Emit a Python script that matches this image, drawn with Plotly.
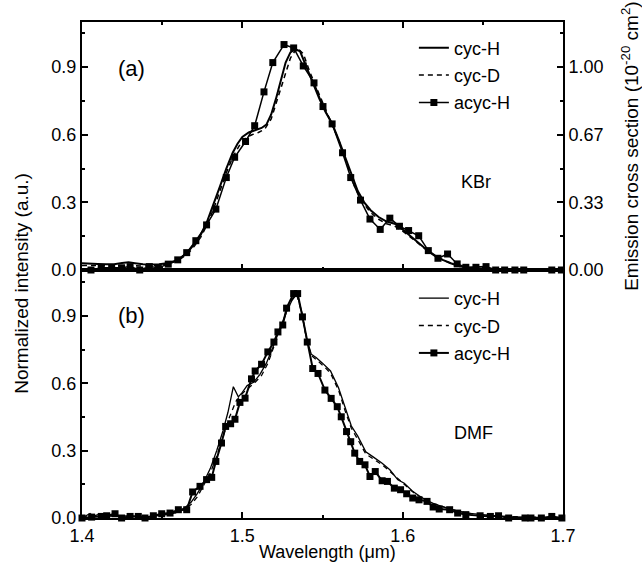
import plotly.graph_objects as go

# ---------------- data: (a) KBr ----------------
a_cycH_x = [1.400, 1.405, 1.410, 1.415, 1.420, 1.425, 1.429, 1.433, 1.438, 1.443, 1.448, 1.453,
            1.458, 1.462, 1.466, 1.470, 1.474, 1.478, 1.482, 1.486, 1.490, 1.494, 1.497, 1.500,
            1.504, 1.508, 1.512, 1.515, 1.518, 1.521, 1.524, 1.527, 1.530, 1.533, 1.536, 1.540,
            1.544, 1.548, 1.552, 1.556, 1.560, 1.564, 1.568, 1.572, 1.576, 1.580, 1.585, 1.590,
            1.595, 1.600, 1.605, 1.610, 1.615, 1.620, 1.625, 1.630, 1.635, 1.640, 1.650, 1.660,
            1.680, 1.700]
a_cycH_y = [0.030, 0.030, 0.027, 0.025, 0.026, 0.031, 0.034, 0.030, 0.025, 0.024, 0.025, 0.030,
            0.040, 0.055, 0.080, 0.115, 0.155, 0.215, 0.290, 0.370, 0.450, 0.520, 0.560, 0.590,
            0.610, 0.620, 0.630, 0.645, 0.690, 0.760, 0.840, 0.920, 0.965, 0.980, 0.970, 0.900,
            0.830, 0.760, 0.700, 0.650, 0.580, 0.500, 0.420, 0.350, 0.300, 0.265, 0.235, 0.215,
            0.205, 0.180, 0.150, 0.120, 0.090, 0.065, 0.045, 0.030, 0.018, 0.010, 0.005, 0.003,
            0.002, 0.002]

a_cycD_x = [1.400, 1.410, 1.420, 1.430, 1.440, 1.450, 1.456, 1.461, 1.466, 1.470, 1.474, 1.478,
            1.482, 1.486, 1.490, 1.494, 1.498, 1.502, 1.506, 1.510, 1.514, 1.518, 1.522, 1.526,
            1.530, 1.534, 1.538, 1.542, 1.546, 1.550, 1.555, 1.560, 1.565, 1.570, 1.575, 1.580,
            1.585, 1.590, 1.595, 1.600, 1.605, 1.610, 1.615, 1.620, 1.625, 1.630, 1.640, 1.650,
            1.670, 1.700]
a_cycD_y = [0.020, 0.020, 0.018, 0.020, 0.018, 0.022, 0.032, 0.048, 0.072, 0.105, 0.145, 0.200,
            0.270, 0.350, 0.430, 0.500, 0.550, 0.585, 0.600, 0.610, 0.625, 0.670, 0.760, 0.860,
            0.940, 0.985, 0.960, 0.880, 0.810, 0.740, 0.660, 0.580, 0.470, 0.370, 0.300, 0.255,
            0.225, 0.205, 0.195, 0.172, 0.145, 0.115, 0.088, 0.062, 0.044, 0.030, 0.010, 0.004,
            0.002, 0.002]

a_acycH_x = [1.4056, 1.412, 1.4185, 1.4247, 1.430, 1.436, 1.442, 1.4476, 1.4538, 1.4597, 1.4653,
             1.471, 1.4777, 1.4835, 1.490, 1.4952, 1.502, 1.5077, 1.5135, 1.519, 1.526, 1.532,
             1.538, 1.5447, 1.5503, 1.556, 1.5625, 1.5676, 1.5737, 1.5796, 1.586, 1.592, 1.598,
             1.6037, 1.610, 1.616, 1.622, 1.628, 1.634, 1.6394, 1.6457, 1.652, 1.658, 1.6636,
             1.670, 1.6755, 1.693, 1.699]
a_acycH_y = [0.000, 0.010, 0.010, 0.010, 0.015, 0.000, 0.015, 0.010, 0.026, 0.045, 0.077,
             0.130, 0.200, 0.270, 0.410, 0.500, 0.570, 0.640, 0.790, 0.920, 1.000, 0.985,
             0.905, 0.830, 0.725, 0.648, 0.520, 0.410, 0.310, 0.226, 0.180, 0.230, 0.194,
             0.175, 0.152, 0.086, 0.052, 0.071, 0.027, 0.012, 0.012, 0.015, 0.000, 0.000,
             0.000, 0.000, 0.000, 0.000]

# ---------------- data: (b) DMF ----------------
b_cycH_x = [1.400, 1.403, 1.405, 1.407, 1.410, 1.415, 1.420, 1.425, 1.430, 1.435, 1.440, 1.445,
            1.450, 1.455, 1.460, 1.464, 1.468, 1.472, 1.476, 1.480, 1.484, 1.488, 1.491, 1.4944,
            1.4975, 1.500, 1.503, 1.507, 1.511, 1.515, 1.519, 1.523, 1.527, 1.531, 1.534, 1.537,
            1.540, 1.543, 1.546, 1.550, 1.555, 1.560, 1.564, 1.568, 1.572, 1.577, 1.582, 1.587,
            1.592, 1.597, 1.601, 1.606, 1.610, 1.614, 1.620, 1.624, 1.630, 1.635, 1.640, 1.650,
            1.660, 1.670, 1.680, 1.690, 1.700]
b_cycH_y = [0.000, 0.010, 0.020, 0.008, 0.015, 0.010, 0.012, 0.008, 0.010, 0.006, 0.004, 0.010,
            0.015, 0.020, 0.030, 0.045, 0.070, 0.110, 0.160, 0.220, 0.300, 0.390, 0.470, 0.585,
            0.540, 0.560, 0.590, 0.605, 0.640, 0.690, 0.760, 0.840, 0.910, 0.970, 1.000, 0.920,
            0.800, 0.730, 0.715, 0.690, 0.655, 0.580, 0.490, 0.410, 0.365, 0.295, 0.270, 0.245,
            0.215, 0.170, 0.155, 0.120, 0.100, 0.082, 0.062, 0.052, 0.040, 0.030, 0.022, 0.015,
            0.008, 0.005, 0.003, 0.002, 0.000]

b_cycD_x = [1.400, 1.405, 1.410, 1.420, 1.430, 1.440, 1.450, 1.455, 1.460, 1.464, 1.468, 1.472,
            1.476, 1.480, 1.484, 1.488, 1.492, 1.496, 1.500, 1.504, 1.508, 1.512, 1.516, 1.520,
            1.524, 1.528, 1.531, 1.534, 1.537, 1.540, 1.543, 1.547, 1.551, 1.555, 1.560, 1.564,
            1.568, 1.572, 1.577, 1.582, 1.587, 1.592, 1.597, 1.601, 1.606, 1.610, 1.615, 1.620,
            1.625, 1.630, 1.640, 1.650, 1.660, 1.680, 1.700]
b_cycD_y = [0.000, 0.012, 0.010, 0.008, 0.008, 0.005, 0.012, 0.018, 0.025, 0.040, 0.060, 0.095,
            0.145, 0.200, 0.275, 0.360, 0.450, 0.520, 0.555, 0.580, 0.605, 0.635, 0.690, 0.770,
            0.850, 0.925, 0.975, 0.995, 0.915, 0.800, 0.725, 0.700, 0.675, 0.645, 0.570, 0.480,
            0.400, 0.350, 0.285, 0.262, 0.238, 0.208, 0.175, 0.150, 0.118, 0.098, 0.078, 0.062,
            0.050, 0.038, 0.022, 0.013, 0.008, 0.003, 0.000]

b_acycH_x = [1.400, 1.406, 1.412, 1.4154, 1.4206, 1.4247, 1.430, 1.4351, 1.4393, 1.4445, 1.4497,
             1.4549, 1.4601, 1.4653, 1.469, 1.4736, 1.4777, 1.4809, 1.4835, 1.487, 1.4896,
             1.4927, 1.4954, 1.4985, 1.5017, 1.5057, 1.508, 1.512, 1.5159, 1.5197, 1.5222,
             1.5252, 1.5276, 1.532, 1.5345, 1.5375, 1.5405, 1.5439, 1.5472, 1.5515, 1.5554,
             1.5592, 1.5617, 1.565, 1.5676, 1.5701, 1.5732, 1.5765, 1.5796, 1.5829, 1.5872,
             1.5905, 1.5948, 1.5987, 1.6025, 1.6063, 1.6102, 1.6152, 1.619, 1.6228, 1.6293,
             1.6343, 1.6394, 1.6483, 1.6547, 1.6598, 1.6661, 1.6763, 1.680, 1.6865, 1.693, 1.6993]
b_acycH_y = [0.000, 0.004, 0.007, 0.010, 0.019, 0.000, 0.007, 0.007, 0.000, 0.010, 0.019,
             0.022, 0.037, 0.037, 0.116, 0.141, 0.171, 0.181, 0.252, 0.334, 0.408,
             0.420, 0.440, 0.515, 0.534, 0.620, 0.655, 0.685, 0.740, 0.784, 0.829,
             0.860, 0.935, 1.000, 1.000, 0.896, 0.784, 0.666, 0.644, 0.570, 0.533,
             0.496, 0.451, 0.385, 0.340, 0.289, 0.252, 0.237, 0.185, 0.207, 0.166,
             0.163, 0.133, 0.126, 0.108, 0.089, 0.081, 0.074, 0.049, 0.040, 0.037,
             0.022, 0.015, 0.010, 0.007, 0.010, 0.000, 0.000, 0.000, 0.000, 0.007, 0.000]

series_names = ["cyc-H", "cyc-D", "acyc-H"]
x_ticks = [1.4, 1.5, 1.6, 1.7]
right_tickvals = [0, 1 / 3, 2 / 3, 1.0]
right_ticktext = ["0.00", "0.33", "0.67", "1.00"]
# emission cross section (1e-20 cm^2) corresponding to normalized intensity 0.9 -> 1.00
xsec_per_norm = 1.0 / 0.9

FONT = "Liberation Sans, Arial, sans-serif"
fig = go.Figure()

def add_panel(xs, ys, xa, ya, leg, widths):
    fig.add_trace(go.Scatter(x=xs[0], y=ys[0], mode="lines", name=series_names[0],
                             line=dict(color="black", width=widths[0]), xaxis=xa, yaxis=ya,
                             legend=leg, legendgroup=leg + "1", cliponaxis=False))
    fig.add_trace(go.Scatter(x=xs[1], y=ys[1], mode="lines", name=series_names[1],
                             line=dict(color="black", width=widths[1], dash="5px,4px"),
                             xaxis=xa, yaxis=ya, legend=leg, legendgroup=leg + "2", cliponaxis=False))
    fig.add_trace(go.Scatter(x=xs[2], y=ys[2], mode="lines+markers", name=series_names[2],
                             line=dict(color="black", width=widths[2]),
                             marker=dict(symbol="square", size=7, color="black"),
                             xaxis=xa, yaxis=ya, legend=leg, legendgroup=leg + "3", cliponaxis=False))

add_panel([a_cycH_x, a_cycD_x, a_acycH_x], [a_cycH_y, a_cycD_y, a_acycH_y], "x", "y", "legend", [2, 1.5, 1.5])
add_panel([b_cycH_x, b_cycD_x, b_acycH_x], [b_cycH_y, b_cycD_y, b_acycH_y], "x2", "y2", "legend2", [1.3, 1.3, 2])

# the KBr cyc-H spectrum expressed as cross section, drawn invisibly so the right axis renders
fig.add_trace(go.Scatter(x=a_cycH_x, y=[v * xsec_per_norm for v in a_cycH_y], mode="lines",
                         xaxis="x", yaxis="y3", line=dict(color="rgba(0,0,0,0)", width=0),
                         showlegend=False, hoverinfo="skip"))

axcommon = dict(showline=True, linecolor="black", linewidth=2, ticks="inside", ticklen=6,
                tickwidth=1.5, tickcolor="black", showgrid=False, zeroline=False,
                tickfont=dict(family=FONT, size=18, color="black"))

fig.update_layout(
    width=642, height=565,
    margin=dict(l=82, r=79, t=22, b=47),
    paper_bgcolor="white", plot_bgcolor="white",
    font=dict(family=FONT, size=18, color="black"),
    xaxis=dict(domain=[0, 1], anchor="y", range=[1.4, 1.7], tickvals=x_ticks,
               showticklabels=False, mirror="ticks",
               minor=dict(dtick=0.05, tick0=1.4, ticks="inside", ticklen=3, tickcolor="black"),
               **axcommon),
    yaxis=dict(domain=[0.5, 1], anchor="x", range=[0, 1.1], tick0=0, dtick=0.3, tickformat=".1f",
               minor=dict(dtick=0.15, tick0=0, ticks="inside", ticklen=3, tickcolor="black"),
               **axcommon),
    yaxis3=dict(overlaying="y", anchor="x", side="right", range=[0, 1.1 * xsec_per_norm],
                tickmode="array", tickvals=right_tickvals, ticktext=right_ticktext,
                minor=dict(tick0=0, dtick=1 / 6, ticks="inside", ticklen=3, tickcolor="black"),
                showticklabels=True,
                **axcommon),
    xaxis2=dict(domain=[0, 1], anchor="y2", range=[1.4, 1.7], tickvals=x_ticks, tickformat=".1f",
                mirror=True,
                minor=dict(dtick=0.05, tick0=1.4, ticks="inside", ticklen=3, tickcolor="black"),
                **axcommon),
    yaxis2=dict(domain=[0, 0.5], anchor="x2", range=[0, 1.105], tick0=0, dtick=0.3,
                tickformat=".1f", mirror=True,
                minor=dict(dtick=0.15, tick0=0, ticks="inside", ticklen=3, tickcolor="black"),
                **axcommon),
    legend=dict(x=0.69, y=0.985, xanchor="left", yanchor="top", bgcolor="rgba(0,0,0,0)",
                font=dict(family=FONT, size=18), traceorder="grouped", tracegroupgap=1),
    legend2=dict(x=0.69, y=0.48, xanchor="left", yanchor="top", bgcolor="rgba(0,0,0,0)",
                 font=dict(family=FONT, size=18), traceorder="grouped", tracegroupgap=1),
    showlegend=True,
)

ann = [
    dict(text="(a)", x=1.431, y=0.893, xref="x", yref="y", showarrow=False, font=dict(size=22)),
    dict(text="(b)", x=1.431, y=0.903, xref="x2", yref="y2", showarrow=False, font=dict(size=22)),
    dict(text="KBr", x=1.646, y=0.39, xref="x", yref="y", showarrow=False, font=dict(size=18)),
    dict(text="DMF", x=1.644, y=0.38, xref="x2", yref="y2", showarrow=False, font=dict(size=18)),
    dict(text="Normalized intensity (a.u.)", x=-0.125, y=0.474, xref="paper", yref="paper",
         textangle=-90, showarrow=False, font=dict(size=19), xanchor="center", yanchor="middle"),
    dict(text="Emission cross section (10<sup>-20</sup> cm<sup>2</sup>)", x=1.139, y=0.75,
         xref="paper", yref="paper", textangle=-90, showarrow=False, font=dict(size=19),
         xanchor="center", yanchor="middle"),
    dict(text="Wavelength (μm)", x=0.51, y=-0.069, xref="paper", yref="paper", showarrow=False,
         font=dict(size=18), xanchor="center", yanchor="middle"),
]
fig.update_layout(annotations=ann)

fig.write_html("out.html")
